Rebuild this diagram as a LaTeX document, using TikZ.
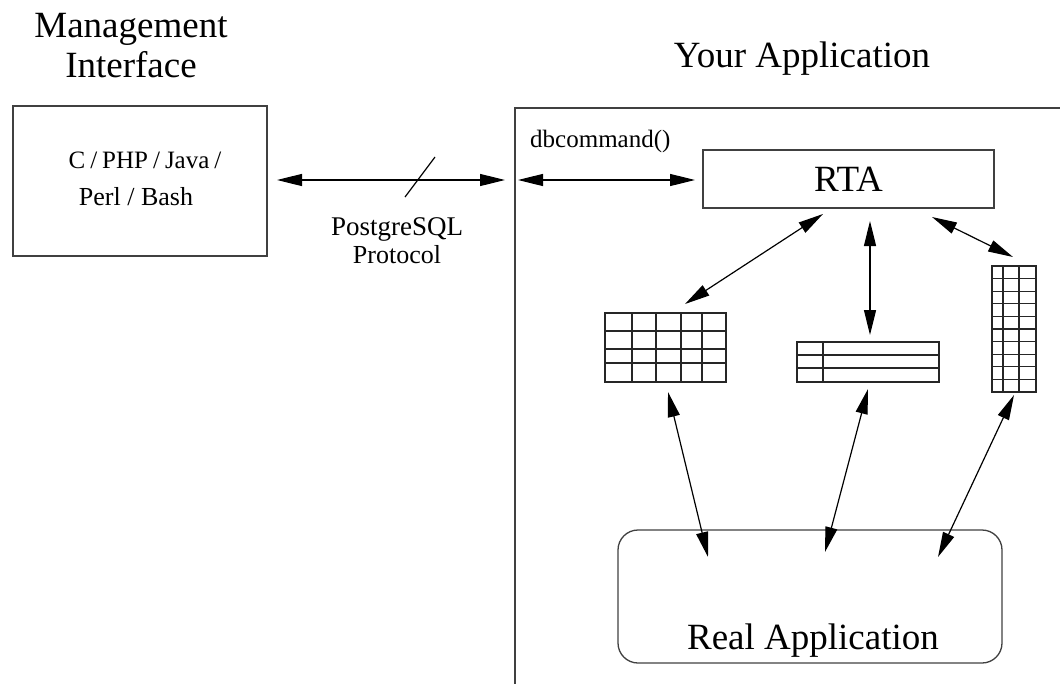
\documentclass[tikz,border=0pt]{standalone}
\usepackage{fontspec}
\setmainfont{Liberation Serif}
\usetikzlibrary{arrows.meta,calc}
\begin{document}
\begin{tikzpicture}[x=1pt,y=-1pt,
  box/.style={draw=black!75, line width=1.3pt, inner sep=0pt, outer sep=0pt},
  tbl/.style={draw=black!85, line width=1.2pt, inner sep=0pt, outer sep=0pt},
  gridline/.style={draw=black!85, line width=1.1pt},
  conn/.style={line width=1.2pt, draw=black, {Triangle[length=25pt,width=12pt]}-{Triangle[length=25pt,width=12pt]}},
  ttl/.style={font=\fontsize{37}{42}\selectfont, anchor=base, inner sep=0pt},
  lbl/.style={font=\fontsize{26}{30}\selectfont, anchor=base, inner sep=0pt},
  small/.style={font=\fontsize{25}{28}\selectfont, anchor=base west, inner sep=0pt},
]
\useasboundingbox (0,0) rectangle (1060,683);

% titles
\node[ttl] (mgmtA) at (131,37) {Management};
\node[ttl] (mgmtB) at (131,77) {Interface};
\node[ttl] (yourapp) at (802,67) {Your Application};

% management interface box
\node[box, minimum width=254pt, minimum height=150pt] (mgmt) at (140,181) {};
\node[lbl, font={\fontsize{25}{30}\selectfont\spaceskip=0.2em\relax}] (langA) at (145,168) {C / PHP / Java /};
\node[lbl] (langB) at (136,205) {Perl / Bash};

% application box (clipped by the picture edges)
\begin{scope}
\clip (0,0) rectangle (1060,683);
\node[box, minimum width=560pt, minimum height=592pt] (app) at (795,404) {};
\end{scope}

% RTA
\node[box, minimum width=291pt, minimum height=58pt, font=\fontsize{37}{42}\selectfont] (rta) at (848.5,179) {RTA};
\node[small] (dbc) at (530,147) {dbcommand()};

% tables
\node[tbl, minimum width=121pt, minimum height=69pt] (t1) at (665.5,347.5) {};
\foreach \x in {27,51,76,97}
  \draw[gridline] ($(t1.north west)+(\x,0)$) -- ($(t1.south west)+(\x,0)$);
\foreach \y in {18,36,50}
  \draw[gridline] ($(t1.north west)+(0,\y)$) -- ($(t1.north east)+(0,\y)$);

\node[tbl, minimum width=142pt, minimum height=40pt] (t2) at (868,362) {};
\draw[gridline] ($(t2.north west)+(26,0)$) -- ($(t2.south west)+(26,0)$);
\foreach \y in {13,26}
  \draw[gridline] ($(t2.north west)+(0,\y)$) -- ($(t2.north east)+(0,\y)$);

\node[tbl, minimum width=44pt, minimum height=126pt] (t3) at (1014,329) {};
\foreach \x in {11,27}
  \draw[gridline] ($(t3.north west)+(\x,0)$) -- ($(t3.south west)+(\x,0)$);
\foreach \k in {1,...,9}
  \draw[gridline] ($(t3.north west)+(0,12.6*\k)$) -- ($(t3.north east)+(0,12.6*\k)$);

% real application
\node[box, rounded corners=20pt, minimum width=384pt, minimum height=133pt] (real) at (810,596.5) {};
\node[ttl] (realtxt) at (813,649) {Real Application};

% protocol label
\node[lbl, font=\fontsize{27}{30}\selectfont] (pgA) at (397,235) {PostgreSQL};
\node[lbl] (pgB) at (397,263) {Protocol};

% connectors
\draw[conn] ($(mgmt.east)+(10,-1)$) -- ($(app.west |- mgmt.east)+(-10,-1)$);
\coordinate (slash) at (419,180);
\draw[line width=1.2pt] ($(slash)+(-14,17)$) -- ($(slash)+(16,-23)$);
\draw[conn] ($(app.west |- rta.west)+(3,1)$) -- ($(rta.west)+(-8,1)$);

\draw[conn] ($(rta.south west)+(120,6)$) -- ($(t1.north west)+(80,-9)$);
\draw[conn] ($(rta.south west)+(167,13)$) -- ($(t2.north west)+(73,-7)$);
\draw[conn] ($(rta.south west)+(229,9)$) -- ($(t3.north west)+(21,-9)$);

\draw[conn] ($(t1.south west)+(63,10)$) -- ($(real.north west)+(90,27)$);
\draw[conn] ($(t2.south west)+(71,7)$) -- ($(real.north west)+(207,22)$);
\draw[conn] ($(t3.south west)+(22,3)$) -- ($(real.north west)+(320,27)$);
\end{tikzpicture}
\end{document}
